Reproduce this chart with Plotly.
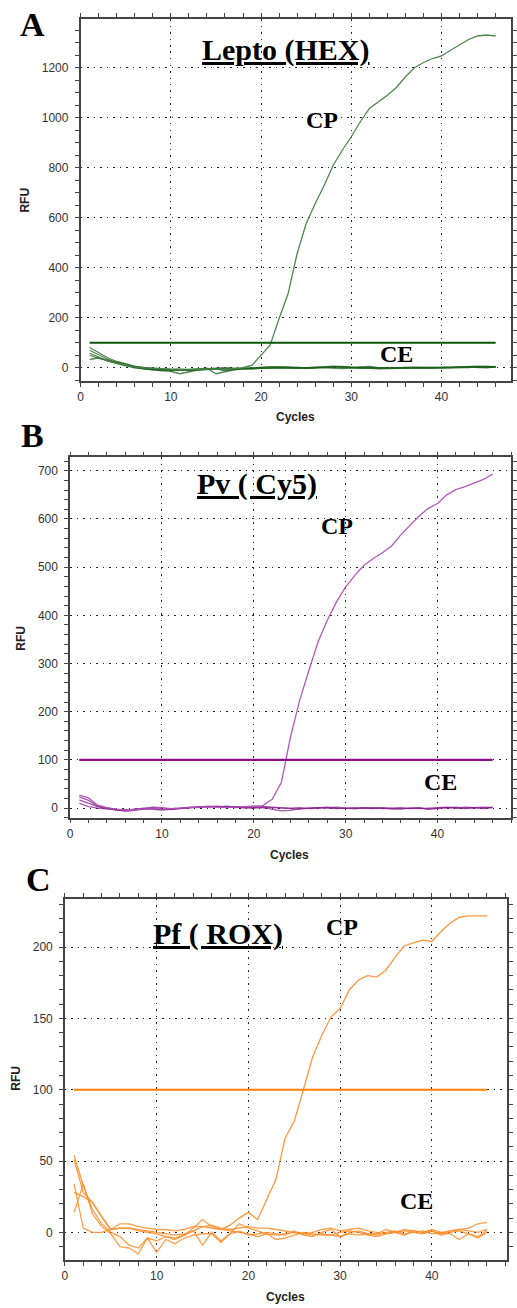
import plotly.graph_objects as go

W, H = 517, 1308
cycles = list(range(1, 47))

# ---------------- Panel A : Lepto (HEX) ----------------
a_cp = [58, 42, 28, 18, 10, 4, 0, -3, -5, -6, -7, -6, -5, -4, -5, -7, -4, 0, 10, 50,
        90, 197, 297, 457, 577, 657, 730, 810, 870, 924, 984, 1037, 1064, 1090, 1121, 1164,
        1200, 1221, 1237, 1247, 1270, 1293, 1313, 1327, 1331, 1327]
a_ce = [
    [81, 62, 40, 25, 14, 6, 1, -3, -6, -8, -10, -8, -6, -3, -2, 0, -2, -4, -3, -1,
     0, 1, 2, 0, -2, -1, 0, 3, 5, 2, 0, -2, -4, -3, -2, 0, 1, 0, -1, 0, 1, 2, 4, 6, 3, 5],
    [70, 52, 34, 22, 12, 4, -2, -6, -10, -14, -24, -15, -9, -6, -4, -12, -6, -3, -1, 0,
     2, 0, -1, -3, -2, 0, 2, 4, 1, -1, 3, 5, 0, -2, -1, 1, 0, -2, 0, 2, 1, 0, 2, 3, 1, 2],
    [50, 38, 30, 20, 10, 2, -4, -8, -7, -5, -6, -9, -7, -2, -24, -15, -8, -4, 0, 2,
     4, 3, 1, -1, 0, 2, 1, -1, -3, 0, 2, 1, -1, 0, 1, -1, 0, 1, 2, 0, -1, 1, 3, 2, 0, 4],
    [33, 40, 26, 16, 8, 0, -5, -9, -12, -10, -8, -11, -9, -6, -5, -3, -4, -6, -5, -2,
     1, 3, 2, 0, -1, 1, 3, 6, 4, 0, -2, -1, 1, 0, -2, 0, 1, 0, -1, 1, 0, 2, 1, 4, 6, 3],
]

# ---------------- Panel B : Pv (Cy5) ----------------
b_cp = [27, 21, 6, 1, -2, -4, -3, -2, -1, -2, -1, 0, 1, 2, 3, 2, 1, 2, 3, 4,
        5, 18, 53, 148, 224, 286, 345, 390, 428, 459, 483, 504, 518, 530, 544, 567,
        587, 606, 622, 632, 650, 661, 667, 674, 682, 693]
b_ce = [
    [23, 16, 4, 0, -3, -7, -5, -3, 0, -2, -3, -1, 0, 2, 4, 3, 2, 3, 1, 0,
     1, -2, -6, -5, -1, 0, 1, 0, -1, 0, 1, 0, -1, 1, 0, -2, 0, 1, -2, -1, 1, 0, 2, 1, 0, 2],
    [17, 10, 3, -1, -4, -5, -2, -1, -3, -4, -2, -1, 1, 3, 2, 4, 3, 1, 2, 3,
     2, 1, 0, -1, -2, 0, 1, 2, 0, -1, -1, 0, 1, 0, -2, -1, 0, -1, 0, 1, 2, 0, -1, 1, 2, 1],
    [10, 3, 0, -2, -3, -4, -3, 0, 2, 1, -1, 0, 2, 1, 3, 2, 4, 2, 0, 1,
     3, 2, 1, 0, 1, -1, 0, 1, 2, 0, -1, 1, 0, -1, 0, 1, -1, 0, -2, 0, 1, 2, 0, 1, -1, 1],
]

# ---------------- Panel C : Pf (ROX) ----------------
c_cp = [51, 28, 21, 11, 2, 3, 3, 2, 1, 0, -1, -2, -1, 1, 4, 3, 2, 5, 10, 14,
        9, 23, 37, 66, 78, 100, 123, 138, 151, 157, 170, 177, 180, 179, 184, 193,
        201, 203, 205, 204, 211, 217, 221, 222, 222, 222]
c_ce = [
    [54, 33, 16, 6, 0, -3, -9, -11, -4, -6, -3, -5, -2, 1, -9, 0, -6, -1, 6, 3,
     1, -1, -2, -1, 0, -1, -2, -1, -2, 0, 1, 0, -2, -3, -1, 0, 2, 1, 0, 2, 0, 1, 2, 1, 0, 2],
    [34, 3, 0, 0, 2, 6, 6, 4, 3, 2, 2, 1, 2, 4, 4, 5, 3, 2, 3, 4,
     3, 3, 2, 1, 0, -1, 0, 2, 3, 1, 2, 3, 1, 0, -1, 0, 1, 0, -1, 1, -1, 1, 2, 3, 6, 7],
    [28, 25, 21, 11, 2, 3, 3, 1, 0, -1, -3, -4, -2, 3, 9, 4, 2, 1, 0, -1,
     -3, -1, -5, -4, -2, 0, -1, -2, -2, -3, -1, -2, -1, -2, 0, 1, -1, 0, 1, -1, 0, -1, -5, -1, -3, 1],
    [14, 34, 13, 4, -1, -10, -11, -15, -4, -14, -5, -8, -4, -2, -1, -1, -7, -1, 1, -2,
     -1, 0, -1, -2, 1, -2, -3, 0, 2, -3, 0, 1, -1, -1, 2, 0, -2, 1, 0, 1, -2, 0, 1, -1, -4, 0],
]

thresholds = [100, 100, 100]
panel_letters = ["A", "B", "C"]
panel_titles = ["Lepto (HEX)", "Pv ( Cy5)", "Pf ( ROX)"]

# layout geometry (pixels)
panels = [
    dict(left=79, right=517, top=19, bottom=381, xr=[0, 47.7], yr=[-53, 1395], dt=200, mdt=50,
         cp=a_cp, ce=a_ce, cpcol="rgba(70,130,70,0.95)", cecol="rgba(25,95,25,0.75)",
         thcol="#0b560b"),
    dict(left=68.3, right=517, top=457.3, bottom=817.7, xr=[0, 48.0], yr=[-20, 728], dt=100, mdt=20,
         cp=b_cp, ce=b_ce, cpcol="rgba(175,80,185,0.95)", cecol="rgba(135,30,140,0.75)",
         thcol="#8a108a"),
    dict(left=63, right=513, top=898.7, bottom=1260, xr=[0, 48.2], yr=[-19.4, 234], dt=50, mdt=10,
         cp=c_cp, ce=c_ce, cpcol="rgba(255,145,55,0.95)", cecol="rgba(255,140,40,0.85)",
         thcol="#ff8000"),
]

fig = go.Figure()

def px(x):
    return x / W

def py(y):
    return 1 - y / H

tickfont = dict(family="Liberation Sans, Arial, sans-serif", size=12, color="#333")
layout = dict(width=W, height=H, margin=dict(l=0, r=0, t=0, b=0),
              paper_bgcolor="white", plot_bgcolor="white", showlegend=False)

for i, p in enumerate(panels):
    n = "" if i == 0 else str(i + 1)
    xa, ya = "x" + n, "y" + n
    for s in p["ce"]:
        fig.add_trace(go.Scatter(x=cycles, y=s, mode="lines", xaxis=xa, yaxis=ya,
                                 line=dict(color=p["cecol"], width=1.3), hoverinfo="skip"))
    fig.add_trace(go.Scatter(x=cycles, y=p["cp"], mode="lines", xaxis=xa, yaxis=ya,
                             line=dict(color=p["cpcol"], width=1.3), hoverinfo="skip"))
    fig.add_trace(go.Scatter(x=[cycles[0], cycles[-1]], y=[thresholds[i]] * 2, mode="lines",
                             xaxis=xa, yaxis=ya, line=dict(color=p["thcol"], width=2.2),
                             hoverinfo="skip"))
    common = dict(showline=True, linecolor="#444", linewidth=1.5, mirror="allticks",
                  ticks="outside", ticklen=4, tickcolor="#444", tickwidth=1.2,
                  showgrid=True, gridcolor="#222", griddash="1.5px,5px", gridwidth=1.3,
                  zeroline=False, tickfont=tickfont)
    layout["xaxis" + n] = dict(common, domain=[px(p["left"]), px(p["right"])], range=p["xr"],
                               anchor=ya, dtick=10, tick0=0,
                               minor=dict(dtick=2, tick0=0, ticks="outside", ticklen=4,
                                          tickcolor="#444", showgrid=False))
    layout["yaxis" + n] = dict(common, domain=[py(p["bottom"]), py(p["top"])], range=p["yr"],
                               anchor=xa, dtick=p["dt"], tick0=0, ticklabelstandoff=4,
                               minor=dict(dtick=p["mdt"], tick0=0, ticks="outside", ticklen=4,
                                          tickcolor="#444", showgrid=False))

fig.update_layout(**layout)

serif = "Liberation Serif, Times New Roman, serif"
sans = "Liberation Sans, Arial, sans-serif"

def ann(text, x, y, size, family, color="black", angle=0):
    fig.add_annotation(text=text, x=px(x), y=py(y), xref="paper", yref="paper",
                       showarrow=False, font=dict(family=family, size=size, color=color),
                       xanchor="center", yanchor="middle", textangle=angle)

letter_pos = [(30, 24), (30, 436), (36, 879)]
title_pos = [(288, 50), (258, 484), (219, 934)]
cp_pos = [(325, 120), (340, 526), (345, 927)]
ce_pos = [(400, 354), (445, 782), (421, 1201)]
cyc_pos = [(298, 417), (292, 855), (287, 1297)]
rfu_pos = [(22, 200), (18, 638), (13, 1078)]

for i in range(3):
    ann("<b>%s</b>" % panel_letters[i], *letter_pos[i], 34, serif)
    ann("<b><u>%s</u></b>" % panel_titles[i], *title_pos[i], 30, serif)
    ann("<b>CP</b>", *cp_pos[i], 24, serif)
    ann("<b>CE</b>", *ce_pos[i], 24, serif)
    ann("<b>Cycles</b>", *cyc_pos[i], 12, sans, "#222")
    ann("<b>RFU</b>", *rfu_pos[i], 12, sans, "#222", angle=-90)

fig.write_html("out.html")
